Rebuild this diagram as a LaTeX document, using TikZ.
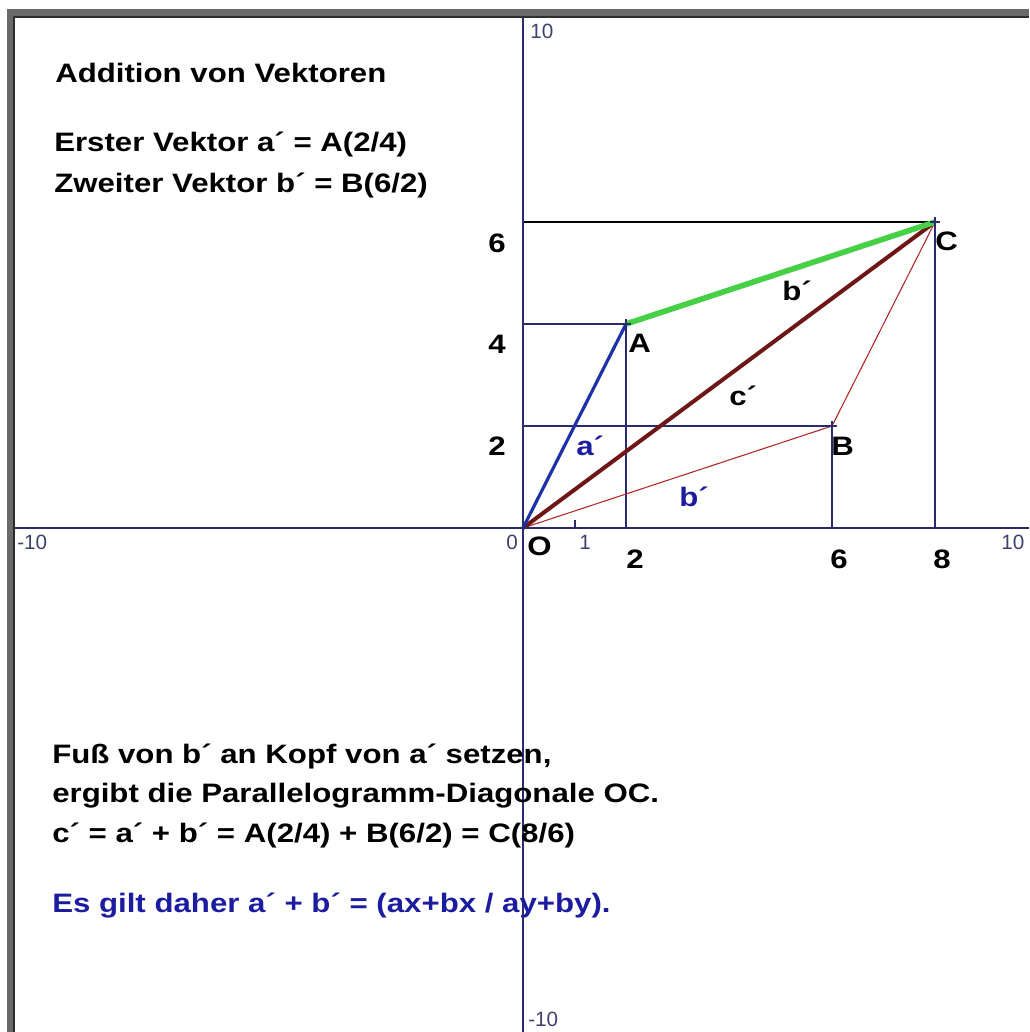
\documentclass[tikz,border=0pt]{standalone}
\usepackage{fontspec}
\setmainfont{Liberation Sans}
\usepackage{graphicx}
\definecolor{navy}{HTML}{2A2A6E}
\definecolor{framegray}{HTML}{6A6A6A}
\definecolor{framedark}{HTML}{2E2E2E}
\definecolor{vecblue}{HTML}{1E32A8}
\definecolor{vecgreen}{HTML}{46D046}
\definecolor{vecmaroon}{HTML}{6E1616}
\definecolor{thinred}{HTML}{B02828}
\definecolor{txtblue}{HTML}{1C1CA0}
\definecolor{ticklbl}{HTML}{404070}
\newcommand{\wide}[1]{\scalebox{1.17}[1]{#1}}
\tikzset{
  axisline/.style={navy, line width=1.6pt},
  helper/.style={navy, line width=1.2pt},
  helperblack/.style={black, line width=1.2pt},
  maintxt/.style={anchor=base west, inner sep=0pt, font=\fontsize{20}{24}\bfseries\selectfont},
  ptlbl/.style={anchor=base west, inner sep=0pt, font=\fontsize{20}{24}\bfseries\selectfont},
  numlbl/.style={anchor=base, inner sep=0pt, font=\fontsize{20}{24}\bfseries\selectfont},
  ticktxt/.style={anchor=base west, inner sep=0pt, text=ticklbl, font=\fontsize{15.5}{17}\selectfont},
  cross/.style={navy, line width=1.5pt}
}
\begin{document}
\begin{tikzpicture}[x=0.75pt,y=-0.75pt]
\useasboundingbox (0,0) rectangle (1029,1032);
\fill[white] (0,0) rectangle (1029,1032);
% frame
\fill[framegray] (7,9) rectangle (1029,16);
\fill[framegray] (7,9) rectangle (13,1032);
\fill[framedark] (13,16) rectangle (1029,18);
\fill[framedark] (13,16) rectangle (15,1032);

% points
\coordinate (O) at (523,528);
\coordinate (A) at (626,324);
\coordinate (B) at (832,426);
\coordinate (C) at (935,222);
\coordinate (xL) at (15,528);
\coordinate (xR) at (1029,528);
\coordinate (yT) at (523,18);
\coordinate (yB) at (523,1032);
\coordinate (Ay) at (523,324);
\coordinate (Ax) at (626,528);
\coordinate (By) at (523,426);
\coordinate (Bx) at (832,528);
\coordinate (Cy) at (523,222);
\coordinate (Cx) at (935,528);
\coordinate (t1a) at (575,520);
\coordinate (t1b) at (575,528);

% helper lines
\draw[helper] (Ay) -- (A);
\draw[helper] (A) -- (Ax);
\draw[helper] (By) -- (B);
\draw[helper] (B) -- (Bx);
\draw[helper] (C) -- (Cx);
\draw[helperblack] (Cy) -- (C);

% axes
\draw[axisline] (xL) -- (xR);
\draw[axisline] (yT) -- (yB);
\draw[axisline] (t1a) -- (t1b);

% vectors
\draw[thinred, line width=0.8pt] (O) -- (B);
\draw[thinred, line width=0.8pt] (B) -- (C);
\draw[vecmaroon, line width=3pt] (O) -- (C);
\draw[vecblue, line width=2.4pt] (O) -- (A);
\draw[vecgreen, line width=4.2pt] (A) -- (C);

% crosses
\foreach \p in {O,A,B,C}{
  \draw[cross] ([xshift=-3.75pt]\p) -- ([xshift=3.75pt]\p);
  \draw[cross] ([yshift=-3.75pt]\p) -- ([yshift=3.75pt]\p);
}

% point labels
\node[ptlbl] (lA) at (628,352) {\wide{A}};
\node[ptlbl] (lB) at (831,455) {\wide{B}};
\node[ptlbl] (lC) at (935,250) {\wide{C}};
\node[ptlbl] (lO) at (527,555) {\wide{O}};

% vector labels
\node[ptlbl] (lbg) at (782,300) {\wide{b´}};
\node[ptlbl] (lc) at (729,405) {\wide{c´}};
\node[ptlbl, text=txtblue] (la) at (576,455) {\wide{a´}};
\node[ptlbl, text=txtblue] (lb) at (679,506) {\wide{b´}};

% big axis numbers
\node[numlbl] (n6) at (497,252) {\wide{6}};
\node[numlbl] (n4) at (497,353) {\wide{4}};
\node[numlbl] (n2) at (497,455) {\wide{2}};
\node[numlbl] (m2) at (635,568) {\wide{2}};
\node[numlbl] (m6) at (839,568) {\wide{6}};
\node[numlbl] (m8) at (942,568) {\wide{8}};

% small tick labels
\node[ticktxt] (t10) at (530,38) {10};
\node[ticktxt] (tm10) at (17,549) {-10};
\node[ticktxt] (t0) at (506,549) {0};
\node[ticktxt] (t1) at (579,549) {1};
\node[ticktxt] (tx10) at (1001,549) {10};
\node[ticktxt] (tym10) at (528,1026) {-10};

% texts
\node[maintxt] (title) at (55,82) {\wide{Addition von Vektoren}};
\node[maintxt] (l1) at (54,151) {\wide{Erster Vektor a´ = A(2/4)}};
\node[maintxt] (l2) at (54,192) {\wide{Zweiter Vektor b´ = B(6/2)}};
\node[maintxt] (l3) at (52,763) {\wide{Fuß von b´ an Kopf von a´ setzen,}};
\node[maintxt] (l4) at (52,802) {\wide{ergibt die Parallelogramm-Diagonale OC.}};
\node[maintxt] (l5) at (52,842) {\wide{c´ = a´ + b´ = A(2/4) + B(6/2) = C(8/6)}};
\node[maintxt, text=txtblue] (l6) at (52,912) {\wide{Es gilt daher a´ + b´ = (ax+bx / ay+by).}};
\end{tikzpicture}
\end{document}
